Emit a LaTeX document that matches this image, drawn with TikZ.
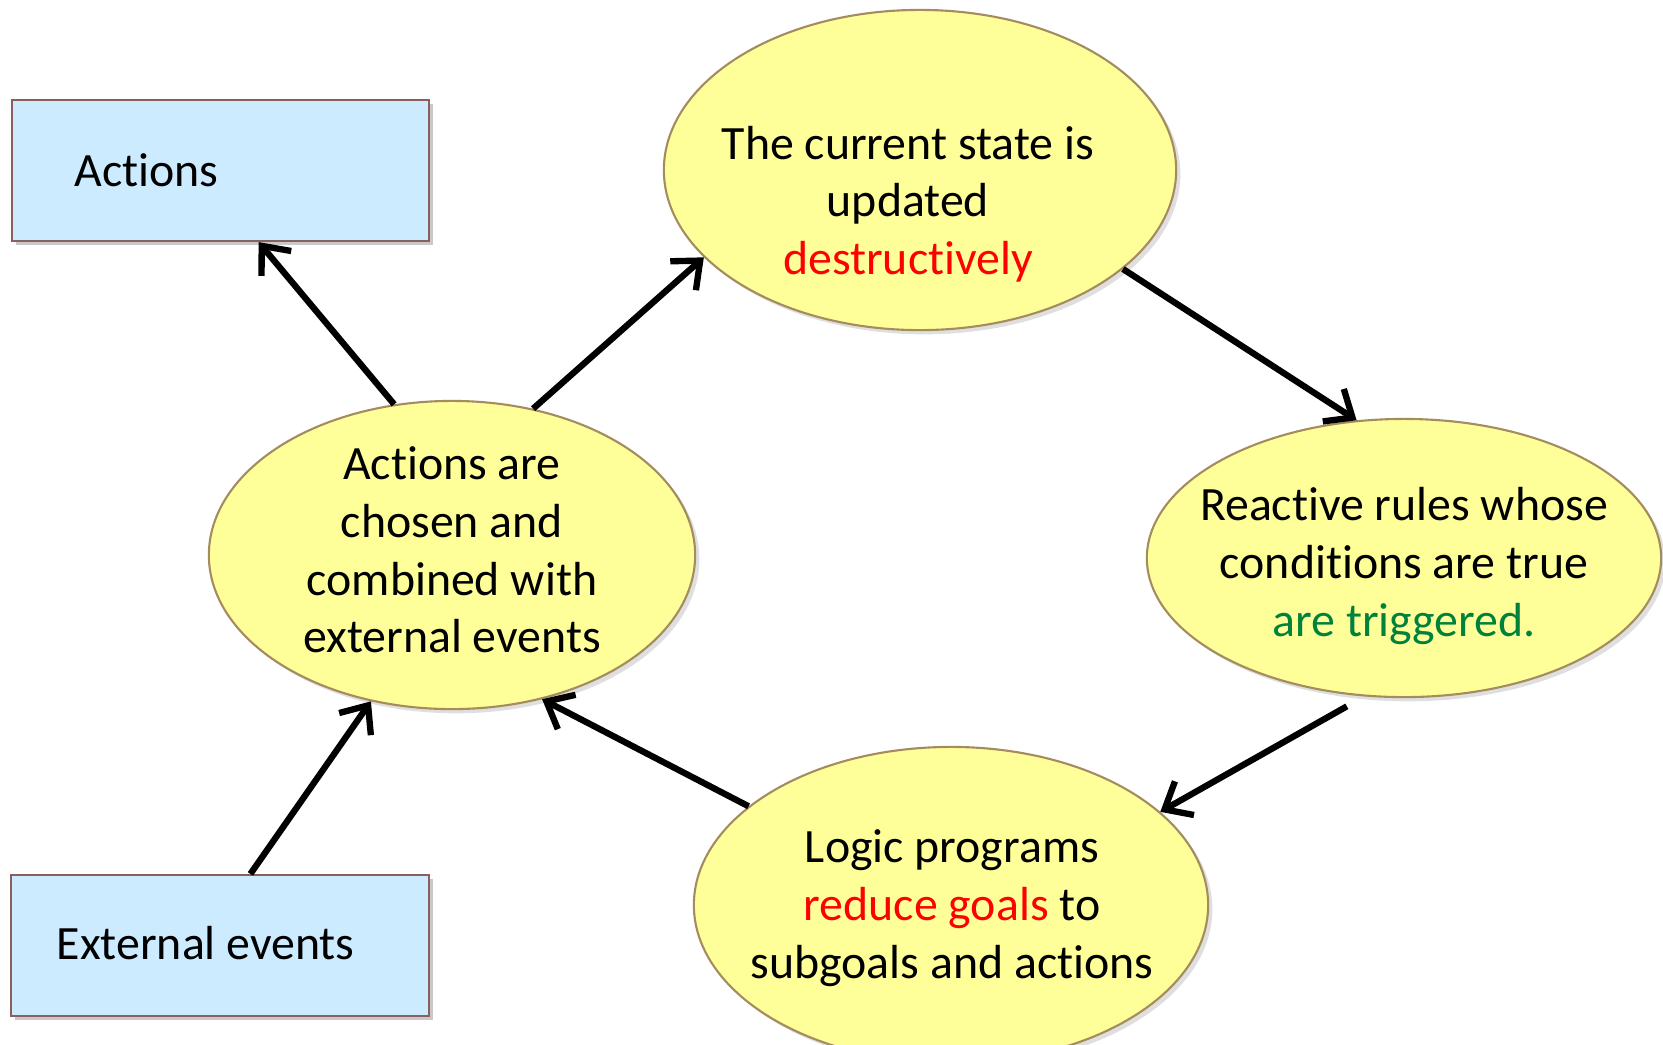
\documentclass[tikz,border=0pt]{standalone}
\usepackage{fontspec}
\setmainfont[Ligatures={NoCommon}]{Carlito}
\usetikzlibrary{arrows.meta,shapes.geometric,shadows}
\definecolor{boxfill}{RGB}{204,235,255}
\definecolor{boxline}{RGB}{140,95,95}
\definecolor{ellfill}{RGB}{255,255,153}
\definecolor{ellline}{RGB}{165,140,95}
\definecolor{redtxt}{RGB}{255,0,0}
\definecolor{greentxt}{RGB}{0,130,60}
\tikzset{
  x=0.01cm, y=-0.01cm,
  bluebox/.style={rectangle, draw=boxline, line width=0.6pt, fill=boxfill, inner sep=0pt,
    drop shadow={shadow xshift=1.2pt, shadow yshift=-1.2pt, opacity=0.35, fill=black!60}},
  yellowell/.style={ellipse, draw=ellline, line width=0.6pt, fill=ellfill, inner sep=0pt,
    drop shadow={shadow xshift=1.2pt, shadow yshift=-1.2pt, opacity=0.25, fill=black!50}},
  txt/.style={inner sep=0pt, align=center, font=\fontsize{13.6pt}{16.4pt}\selectfont},
  arr/.style={line width=1.8pt, -{Straight Barb[length=6.5pt,width=11pt]}}
}
\begin{document}
\begin{tikzpicture}
\useasboundingbox (0,0) rectangle (1663,1044);
\clip (0,0) rectangle (1663,1044);
\fill[white] (0,0) rectangle (1663,1044);

% boxes
\node[bluebox, minimum width=4.17cm, minimum height=1.41cm] (act) at (220.5,170.5) {};
\node[txt, anchor=west] (acttxt) at (74,170) {Actions};
\node[bluebox, minimum width=4.18cm, minimum height=1.41cm] (ext) at (220,945.5) {};
\node[txt, anchor=west] (exttxt) at (56,943) {External events};

% ellipses
\node[yellowell, minimum width=5.12cm, minimum height=3.20cm] (T) at (920,170) {};
\node[txt] (Ttxt) at (908,204) {The current state is\\updated\\\textcolor{redtxt}{destructively}};

\node[yellowell, minimum width=5.14cm, minimum height=2.78cm] (R) at (1404,558) {};
\node[txt] (Rtxt) at (1404,566) {Reactive rules whose\\conditions are true\\\textcolor{greentxt}{are triggered.}};

\node[yellowell, minimum width=5.14cm, minimum height=3.16cm] (B) at (951,905) {};
\node[txt] (Btxt) at (952,908) {Logic programs\\\textcolor{redtxt}{reduce goals} to\\subgoals and actions};

\node[yellowell, minimum width=4.86cm, minimum height=3.08cm] (L) at (452,555) {};
\node[txt] (Ltxt) at (452,550) {Actions are\\chosen and\\combined with\\external events};

% connectors
\draw[arr] (L.111.8) -- (act.-62);
\draw[arr] (L.61.1) -- (T.-158.6);
\draw[arr] (T.-26.2) -- (R.109.4);
\draw[arr, shorten <=0.2cm] (R.-106) -- (B.24.6);
\draw[arr] (B.154.8) -- (L.-58.9);
\draw[arr] (ext.67.6) -- (L.-119.5);
\end{tikzpicture}
\end{document}
